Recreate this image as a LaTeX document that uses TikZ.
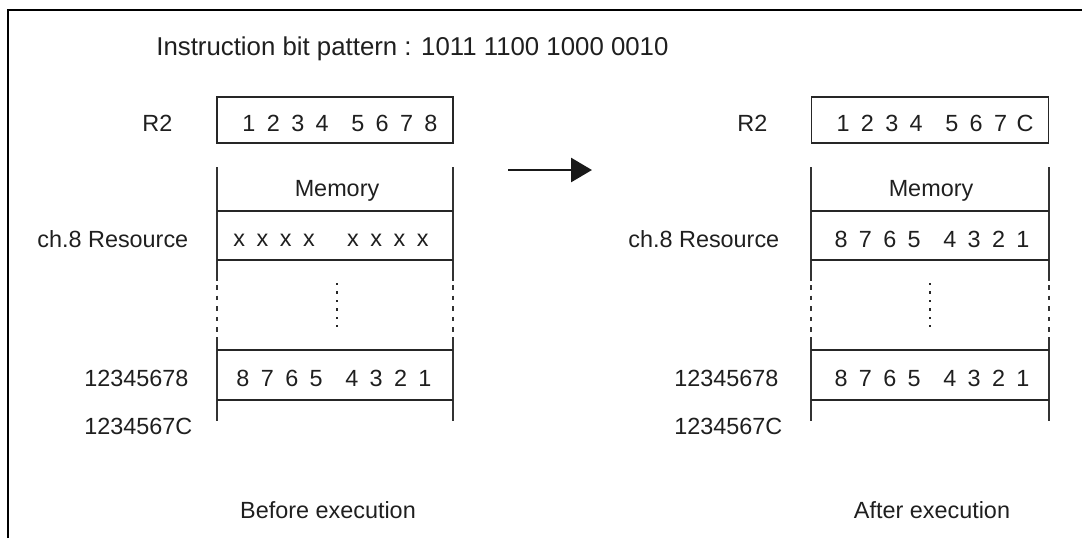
\documentclass[tikz,border=0pt]{standalone}
\usepackage{fontspec}
\setmainfont{Liberation Sans}
\usetikzlibrary{arrows.meta}
\newcommand\hexrow[8]{\makebox[12.2pt]{#1}\makebox[12.2pt]{#2}\makebox[12.2pt]{#3}\makebox[12.2pt]{#4}\hspace{5.6pt}\makebox[12.2pt]{#5}\makebox[12.2pt]{#6}\makebox[12.2pt]{#7}\makebox[12.2pt]{#8}}
\newcommand\xrowtxt{\makebox[11.65pt]{x}\makebox[11.65pt]{x}\makebox[11.65pt]{x}\makebox[11.65pt]{x}\hspace{10.3pt}\makebox[11.65pt]{x}\makebox[11.65pt]{x}\makebox[11.65pt]{x}\makebox[11.65pt]{x}}
\tikzset{
  lbl/.style={inner sep=0pt, font=\fontsize{11.7}{14}\selectfont, text=black!88},
  regbox/.style={draw=black!85, line width=0.75pt},
  col/.style={draw=black!80, line width=0.7pt},
  colgap/.style={draw=black!80, line width=0.7pt, dash pattern=on 2.3pt off 3pt},
  hline/.style={draw=black!85, line width=1pt},
  frame/.style={draw=black, line width=1.1pt},
  bigarrow/.style={draw=black!90, line width=1.4pt, -{Triangle[length=10.5pt,width=12pt]}},
}
\begin{document}
\begin{tikzpicture}[x=0.5pt,y=-0.5pt]
\useasboundingbox (0,0) rectangle (1082,538);
% frame
\draw[frame] (8,538) -- (8,10) -- (1082,10);
% title
\node[lbl, anchor=base west, font=\fontsize{12.9}{15}\selectfont] (title) at (156,55.5) {Instruction bit pattern : 1011 1100 1000 0010};

% ---------- left block ----------
\node[lbl, anchor=base west] (r2l) at (142,131.5) {R2};
\node[regbox, minimum width=118pt, minimum height=23pt, inner sep=0pt] (boxl) at (335,120) {};
\node[lbl, anchor=base] (digl) at (340,131.5) {\hexrow12345678};
\draw[col] (217,167) -- (217,281);
\draw[colgap] (217,285) -- (217,333);
\draw[col] (217,337) -- (217,421);
\draw[col] (453,167) -- (453,281);
\draw[colgap] (453,285) -- (453,333);
\draw[col] (453,337) -- (453,421);
\draw[hline] (217,211) -- (453,211);
\draw[hline] (217,260) -- (453,260);
\draw[hline] (217,350) -- (453,350);
\draw[hline] (217,400) -- (453,400);
\node[lbl, anchor=base] (meml) at (337,196) {Memory};
\node[lbl, anchor=base west] (resl) at (37,247) {ch.8 Resource};
\node[lbl, anchor=base] (xrow) at (331,246) {\xrowtxt};
\foreach \k in {0,...,5} \fill[black!85] (336,283+\k*8.4) rectangle ++(2.4,2.4);
\node[lbl, anchor=base west] (a1l) at (84,386.5) {12345678};
\node[lbl, anchor=base] (rowl) at (334,386.5) {\hexrow87654321};
\node[lbl, anchor=base west] (a2l) at (84,434.5) {1234567C};
\node[lbl, anchor=base] (before) at (328,518.5) {Before execution};

% arrow
\coordinate (as) at (508,170);
\coordinate (ae) at (592,170);
\draw[bigarrow] (as) -- (ae);

% ---------- right block ----------
\node[lbl, anchor=base west] (r2r) at (737,131.5) {R2};
\node[regbox, minimum width=118.5pt, minimum height=23pt, inner sep=0pt] (boxr) at (930,120) {};
\node[lbl, anchor=base] (digr) at (934,131.5) {\hexrow1234567C};
\draw[col] (811,167) -- (811,281);
\draw[colgap] (811,285) -- (811,333);
\draw[col] (811,337) -- (811,421);
\draw[col] (1049,167) -- (1049,281);
\draw[colgap] (1049,285) -- (1049,333);
\draw[col] (1049,337) -- (1049,421);
\draw[hline] (811,211) -- (1049,211);
\draw[hline] (811,260) -- (1049,260);
\draw[hline] (811,350) -- (1049,350);
\draw[hline] (811,400) -- (1049,400);
\node[lbl, anchor=base] (memr) at (931,196) {Memory};
\node[lbl, anchor=base west] (resr) at (628,247) {ch.8 Resource};
\node[lbl, anchor=base] (rowr1) at (932,247) {\hexrow87654321};
\foreach \k in {0,...,5} \fill[black!85] (929,283+\k*8.4) rectangle ++(2.4,2.4);
\node[lbl, anchor=base west] (a1r) at (674,386.5) {12345678};
\node[lbl, anchor=base] (rowr2) at (932,386.5) {\hexrow87654321};
\node[lbl, anchor=base west] (a2r) at (674,434.5) {1234567C};
\node[lbl, anchor=base] (after) at (932,518.5) {After execution};
\end{tikzpicture}
\end{document}
